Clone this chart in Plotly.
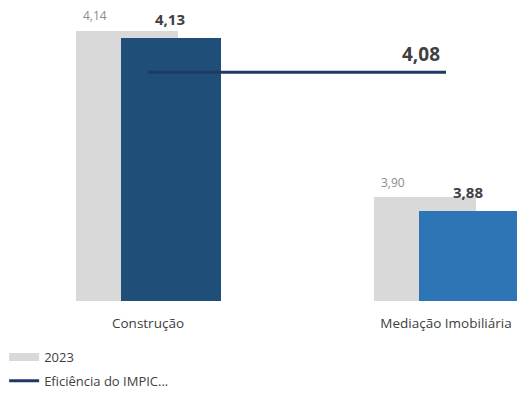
import plotly.graph_objects as go

categories = ["Construção", "Mediação Imobiliária"]
values_2023 = [4.14, 3.90]
values_2024 = [4.13, 3.88]
efficiency = [4.08, 4.08]
labels_2023 = ["4,14", "3,90"]
labels_2024 = ["4,13", "3,88"]
efficiency_label = "4,08"

FONT = "Open Sans"
GRAY = "#D9D9D9"
BLUES = ["#1F4E79", "#2E75B6"]
NAVY = "#1F3864"

fig = go.Figure()
fig.add_trace(go.Bar(
    x=categories, y=values_2023, name="2023",
    marker=dict(color=GRAY, line=dict(width=0)),
    offset=-0.242, width=0.342, showlegend=False,
))
fig.add_trace(go.Bar(
    x=categories, y=values_2024, name="2024",
    marker=dict(color=BLUES, line=dict(width=0)),
    offset=-0.091, width=0.337, showlegend=False,
))
fig.add_trace(go.Scatter(
    x=categories, y=efficiency, name="Eficiência do IMPIC...",
    mode="lines", line=dict(color=NAVY, width=3), showlegend=False,
))
# legend entries (swatches drawn as wide legend lines)
fig.add_trace(go.Scatter(
    x=[None], y=[None], name="2023", mode="lines",
    line=dict(color=GRAY, width=8), legendgroup="a", legendrank=1,
))
fig.add_trace(go.Scatter(
    x=[None], y=[None], name="Eficiência do IMPIC...", mode="lines",
    line=dict(color=NAVY, width=3), legendgroup="b", legendrank=2,
))

annotations = []
for c, v, t in zip(categories, values_2023, labels_2023):
    annotations.append(dict(x=c, y=v, text=t, showarrow=False, xref="x", yref="y",
                            xshift=-53, yshift=15,
                            font=dict(family=FONT, size=12, color="#8C8C8C")))
for c, v, t in zip(categories, values_2024, labels_2024):
    annotations.append(dict(x=c, y=v, text="<b>" + t + "</b>", showarrow=False, xref="x", yref="y",
                            xshift=22, yshift=19,
                            font=dict(family=FONT, size=15, color="#404040")))
annotations.append(dict(x=categories[-1], y=efficiency[-1], text="<b>" + efficiency_label + "</b>",
                        showarrow=False, xref="x", yref="y", xanchor="right",
                        xshift=-4, yshift=18,
                        font=dict(family=FONT, size=19, color="#404040")))

fig.update_layout(
    width=517, height=394,
    margin=dict(l=0, r=0, t=10, b=93, autoexpand=False),
    paper_bgcolor="white", plot_bgcolor="white",
    barmode="overlay", bargap=0,
    showlegend=True,
    legend=dict(x=0.008, y=0.132, xref="container", yref="container",
                xanchor="left", yanchor="top", orientation="v",
                font=dict(family=FONT, size=13, color="#404040"),
                itemwidth=30, tracegroupgap=4, bgcolor="rgba(0,0,0,0)"),
    annotations=annotations,
    font=dict(family=FONT, color="#404040"),
)
fig.update_xaxes(range=[-0.4966, 1.2383], showgrid=False, showline=False, zeroline=False,
                 ticks="", ticklabelstandoff=12,
                 tickfont=dict(family=FONT, size=13.5, color="#404040"))
fig.update_yaxes(range=[3.75, 4.17], visible=False, showgrid=False, zeroline=False)

fig.write_html("out.html")
